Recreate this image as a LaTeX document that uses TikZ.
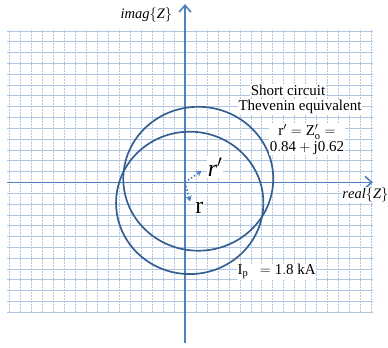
\documentclass[tikz,border=0pt]{standalone}
\usepackage{fontspec}
\setmainfont{Liberation Serif}
\usepackage{tikz}
\usetikzlibrary{arrows.meta,positioning,calc}
\definecolor{axisblue}{RGB}{79,129,189}
\definecolor{circblue}{RGB}{54,95,145}
\definecolor{gridblue}{RGB}{176,199,226}
\tikzset{
  gridline/.style={draw=gridblue,line width=0.55pt,dash pattern=on 2.2pt off 0.8pt},
  axisline/.style={draw=axisblue,line width=1.6pt,-{Straight Barb[length=2.4mm,width=4.2mm]}},
  circ/.style={draw=circblue,line width=1.7pt},
  vec/.style={draw=axisblue,line width=1.6pt,dotted,-{Stealth[length=2mm,width=2.2mm]}},
  lbl/.style={fill=white,inner sep=0.5pt,font=\fontsize{15}{16}\selectfont},
  axlbl/.style={fill=white,inner sep=0.5pt,font=\fontsize{14.5}{16}\selectfont},
  veclbl/.style={fill=white,inner sep=0.5pt,font=\fontsize{24}{26}\selectfont},
}

\begin{document}
\begin{tikzpicture}[x=10.96pt,y=10.82pt]
  \useasboundingbox (-16.88,-15.31) rectangle (18.52,16.85);
  % grid
  \foreach \i in {-16,...,17}
    \draw[gridline] (\i,-12) -- (\i,14.1);
  \foreach \j in {-12,...,14}
    \draw[gridline] (-16.2,\j) -- (17.15,\j);
  % axes
  \coordinate (o) at (0,0);
  \coordinate (xl) at (-16.2,0);
  \coordinate (xr) at (17.15,0);
  \coordinate (yb) at (0,-14.85);
  \coordinate (yt) at (0,16.47);
  \draw[axisline] (xl) -- (xr);
  \draw[axisline] (yb) -- (yt);
  \node[axlbl] (imz) at (-3.52,15.46) {$\mathit{imag}\{\mathit{Z}\}$};
  \node[axlbl,anchor=west] (rez) at (14.3,-1.17) {$\mathit{real}\{\mathit{Z}\}$};
  % circles
  \coordinate (c1) at (1.21,0.33);
  \coordinate (c2) at (0.43,-1.9);
  \draw[circ] (c1) ellipse [x radius=6.84, y radius=6.65];
  \draw[circ] (c2) ellipse [x radius=6.72, y radius=6.58];
  % vectors
  \coordinate (rp) at (1.52,1.07);
  \coordinate (rr) at (0.46,-1.78);
  \draw[vec] (o) -- (rp);
  \draw[vec] (o) -- (rr);
  \node[veclbl] (rplbl) at (2.74,1.44) {$\mathit{r}'$};
  \node[veclbl] (rlbl) at (1.3,-2.4) {$\mathrm{r}$};
  % labels
  \node[lbl] (sc) at (9.4,8.53) {Short circuit};
  \node[lbl] (thev) at (10.49,6.96) {Thevenin equivalent};
  \node[lbl,align=center] (zo) at (11.13,3.94)
       {$\mathrm{r}' = \mathrm{Z}'_{\mathrm{o}} =$\\
        $\mathrm{0.84} + \mathrm{j0.62}$};
  \node[lbl] (ip) at (8.36,-8.26) {$\mathrm{I_p}\ \ = \mathrm{1.8\ kA}$};
\end{tikzpicture}
\end{document}
